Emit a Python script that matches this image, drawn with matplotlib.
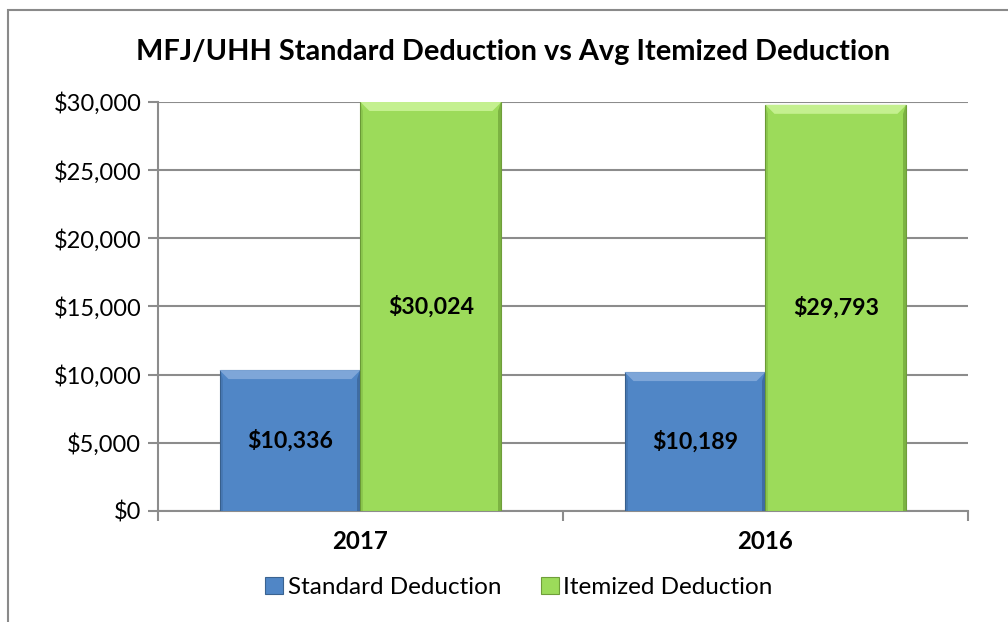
import matplotlib.pyplot as plt
from matplotlib.patches import Polygon, Rectangle
from matplotlib.ticker import FuncFormatter
import numpy as np

# chart data
years = ['2017', '2016']
standard = [10336, 10189]
itemized = [30024, 29793]
series_names = ['Standard Deduction', 'Itemized Deduction']
blue = '#5086C6'
green = '#9CDB5A'

plt.rcParams['font.family'] = ['Lato', 'DejaVu Sans']

fig = plt.figure(figsize=(10.08, 6.22), dpi=100)
ax = fig.add_axes([0.1567, 0.1785, 0.8036, 0.6575])

# outer chart border (runs off right/bottom like the screenshot)
fig.patches.append(Rectangle((8 / 1008, -0.1), 1.2, 1 - 10 / 622 + 0.1,
                             transform=fig.transFigure, fill=False,
                             edgecolor='#8a8a8a', lw=1.5))

x = np.arange(len(years))
w = 0.348
b1 = ax.bar(x - w / 2, standard, w, color=blue, edgecolor='#3b6390', lw=0.8, zorder=3)
b2 = ax.bar(x + w / 2, itemized, w, color=green, edgecolor='#6f9e3a', lw=0.8, zorder=3)

ax.set_xlim(-0.5, 1.5)
ax.set_ylim(0, 30000)


def bevel(bars, light, dark):
    # px -> data scale
    sx = 1 / (ax.transData.transform((1, 0))[0] - ax.transData.transform((0, 0))[0])
    sy = 1 / (ax.transData.transform((0, 1))[1] - ax.transData.transform((0, 0))[1])
    dx, dy = 9 * sx, 9 * sy
    for p in bars:
        x0, x1 = p.get_x(), p.get_x() + p.get_width()
        top = min(p.get_height(), ax.get_ylim()[1])
        ax.add_patch(Polygon([(x0, top), (x1, top), (x1 - dx, top - dy), (x0 + dx, top - dy)],
                             closed=True, color=light, lw=0, zorder=4))
        ax.add_patch(Polygon([(x1, top), (x1, 0), (x1 - 3 * sx, 0), (x1 - 3 * sx, top - dy)],
                             closed=True, color=dark, lw=0, alpha=0.5, zorder=4))
        ax.add_patch(Polygon([(x0, top), (x0, 0), (x0 + 3 * sx, 0), (x0 + 3 * sx, top - dy)],
                             closed=True, color=dark, lw=0, alpha=0.25, zorder=4))


bevel(b1, '#7ea6d8', '#2f5482')
bevel(b2, '#c4f08f', '#5d8c2c')

for bars, vals in ((b1, standard), (b2, itemized)):
    for p, v in zip(bars, vals):
        ax.text(p.get_x() + p.get_width() / 2, v / 2, f'${v:,.0f}',
                ha='center', va='center', fontsize=16.7, fontweight='bold', zorder=5)

ax.yaxis.set_major_formatter(FuncFormatter(lambda v, _: f'${v:,.0f}'))
ax.set_yticks(np.arange(0, 30001, 5000))
ax.yaxis.grid(True, color='#8c8c8c', lw=1.5, zorder=0)
ax.set_axisbelow(True)

ax.set_xticks(x)
ax.set_xticklabels(years, fontsize=17.3, fontweight='bold')
ax.set_xticks([-0.5, 0.5, 1.5], minor=True)
ax.tick_params(axis='x', which='major', length=0, pad=14)
ax.tick_params(axis='x', which='minor', length=7, color='#8c8c8c', width=1.5)
ax.tick_params(axis='y', labelsize=17, length=7, color='#8c8c8c', width=1.5, pad=5)

for s in ('top', 'right'):
    ax.spines[s].set_visible(False)
for s in ('left', 'bottom'):
    ax.spines[s].set_color('#8c8c8c')
    ax.spines[s].set_linewidth(1.5)

fig.text(0.509, 0.916, 'MFJ/UHH Standard Deduction vs Avg Itemized Deduction',
         ha='center', va='center', fontsize=20.8, fontweight='bold')

fig.legend([b1, b2], series_names, loc='center', bbox_to_anchor=(0.515, 0.056),
           ncol=2, frameon=False, fontsize=17.5, handlelength=0.74, handleheight=0.74,
           handletextpad=0.2, columnspacing=1.6, borderpad=0, borderaxespad=0)

fig.savefig('out.png', dpi=100)
